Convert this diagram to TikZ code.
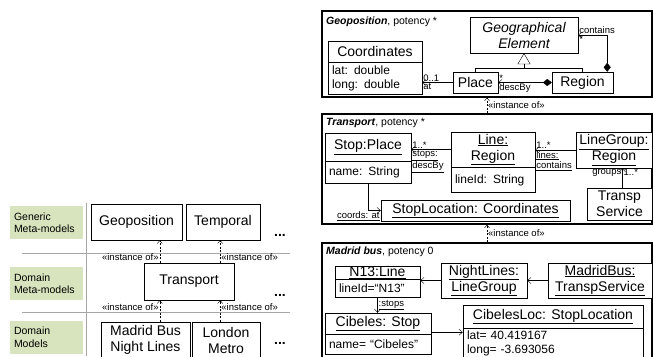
\documentclass[tikz,border=0pt]{standalone}
\usepackage{fontspec}
\setmainfont{Liberation Sans}
\usetikzlibrary{arrows.meta, positioning}
\definecolor{lvlgreen}{HTML}{D7E4BD}
\definecolor{sepgray}{HTML}{A6A6A6}
\tikzset{
  cls/.style={
    draw,
    fill=white,
    align=center,
    inner sep=1pt,
    font=\fontsize{14}{16}\selectfont
  },
  attr/.style={
    draw,
    fill=white,
    align=left,
    inner xsep=4pt,
    inner ysep=0pt,
    font=\fontsize{12}{14}\selectfont
  },
  level/.style={
    fill=lvlgreen,
    align=left,
    text width=65pt,
    inner xsep=4pt,
    minimum height=33pt,
    font=\fontsize{10.5}{12.5}\selectfont
  },
  frame/.style={draw, line width=1.2pt},
  frametitle/.style={anchor=west, inner sep=0pt, font=\fontsize{10.5}{12}\selectfont},
  lbl/.style={inner sep=1pt, font=\fontsize{9.5}{10.5}\selectfont},
  dots/.style={font=\fontsize{14}{16}\bfseries},
  sepline/.style={draw=sepgray, line width=0.8pt},
  inst/.style={-{Straight Barb[length=3pt, width=5pt]}, dash pattern=on 2pt off 1.5pt},
  assoc/.style={-{Straight Barb[length=3.5pt, width=6pt]}},
  comp/.style={{Diamond[length=9pt, width=7pt]}-{Straight Barb[length=3.5pt, width=6pt]}},
  gener/.style={-{Triangle[open, length=11pt, width=13pt]}}
}

\begin{document}
\begin{tikzpicture}[x=1pt, y=-1pt]
  \useasboundingbox[fill=white] (0,0) rectangle (653,356);

  % levels on the left
  \node[level] (lgen) at (46.5,222.5) {Generic\\\mbox{Meta-models}};
  \node[level] (ldmm) at (46.5,283.5) {Domain\\\mbox{Meta-models}};
  \node[level] (ldm) at (46.5,337) {Domain\\Models};
  \draw[sepline] (86,203) -- (86,356);
  \draw[sepline] (22,253) -- (290,253);
  \draw[sepline] (22,312) -- (290,312);

  \node[cls, minimum width=91pt, minimum height=36pt] (geo) at (136.5,222) {Geoposition};
  \node[cls, minimum width=74pt, minimum height=36pt] (temporal) at (223,222) {Temporal};
  \node[cls, minimum width=90pt, minimum height=37pt] (transport) at (189,281.5) {Transport};
  \node[cls, minimum width=89pt, minimum height=36pt] (madrid) at (145.5,340) {Madrid Bus\\Night Lines};
  \node[cls, minimum width=68pt, minimum height=36pt] (london) at (226,340) {London\\Metro};
  \node[dots] (dotsa) at (280,235) {...};
  \node[dots] (dotsb) at (280,295) {...};
  \node[dots] (dotsc) at (280,343) {...};

  \coordinate (ta) at ([xshift=16pt]transport.north west);
  \coordinate (tb) at ([xshift=-14pt]transport.north east);
  \coordinate (ba) at ([xshift=16pt]transport.south west);
  \coordinate (bb) at ([xshift=-14pt]transport.south east);
  \draw[inst] (ta) -- (ta |- geo.south) node[lbl, left, pos=0.26] {«instance of»};
  \draw[inst] (tb) -- (tb |- temporal.south) node[lbl, right, pos=0.26] {«instance of»};
  \draw[inst] (ba |- madrid.north) -- (ba) node[lbl, left, pos=0.68] {«instance of»};
  \draw[inst] (bb |- london.north) -- (bb) node[lbl, right, pos=0.68] {«instance of»};

  % Geoposition
  \node[frame, minimum width=330pt, minimum height=86pt] (geoframe) at (487,54) {};
  \node[frametitle] (geotitle) at (326,22) {\textbf{\textit{Geoposition}}, potency *};
  \node[cls, minimum width=108pt, minimum height=36pt, font=\fontsize{14}{16}\itshape] (ge) at (524,35) {Geographical\\Element};
  \node[cls, minimum width=94pt, minimum height=21pt] (coordhead) at (375,51.5) {Coordinates};
  \node[attr, text width=86pt, minimum height=32pt, below=0pt of coordhead] (coordbody) {lat: double\\long: double};
  \node[cls, minimum width=45pt, minimum height=21pt] (place) at (475.5,82.5) {Place};
  \node[cls, minimum width=61pt, minimum height=21pt] (region) at (582.5,82.5) {Region};

  \coordinate (gen) at ([yshift=-15pt]ge.south);
  \draw[gener] (gen) -- (ge.south);
  \draw (place.north) |- (gen) -| (region.north);
  \draw[comp] ([xshift=-6pt]region.north east) |- (ge.east);
  \node[lbl, anchor=south west] at (ge.east) {contains};
  \node[lbl, anchor=north west] at (ge.east) {*};
  \draw[comp] (region.west) -- (place.east);
  \node[lbl, anchor=south west] at (place.east) {*};
  \node[lbl, anchor=north west] at (place.east) {descBy};
  \coordinate (atend) at (place.west -| coordhead.east);
  \draw[assoc] (place.west) -- (atend);
  \node[lbl, anchor=south west] at (atend) {0..1};
  \node[lbl, anchor=north west] at (atend) {at};

  % Transport
  \node[frame, minimum width=330pt, minimum height=110pt] (trframe) at (487,169) {};
  \draw[inst] (trframe.north) -- (geoframe.south) node[lbl, right, midway] {«instance of»};
  \node[frametitle] (trtitle) at (326,123) {\textbf{\textit{Transport}}, potency *};
  \node[cls, minimum width=86pt, minimum height=28pt] (stophead) at (368,147) {\underline{Stop:Place}};
  \node[attr, text width=78pt, minimum height=22pt, below=0pt of stophead] (stopbody) {name: String};
  \node[cls, minimum width=84pt, minimum height=35pt] (linehead) at (493,149.5) {\underline{Line:}\\\underline{Region}};
  \node[attr, text width=76pt, minimum height=25pt, below=0pt of linehead] (linebody) {lineId: String};
  \node[cls, minimum width=76pt, minimum height=36pt] (lgroup) at (614,150) {\underline{LineGroup:}\\\underline{Region}};
  \node[cls, minimum width=65pt, minimum height=32pt] (tservice) at (619.5,204) {Transp\\Service};
  \node[cls, minimum width=189pt, minimum height=21pt] (stoploc) at (475.5,210.5) {\underline{StopLocation: Coordinates}};

  \coordinate (stopsend) at (linehead.west -| stophead.east);
  \draw[assoc] (linehead.west) -- (stopsend);
  \node[lbl, anchor=south west] at (stopsend) {1..*};
  \node[lbl, anchor=north west, align=left] at (stopsend) {\underline{stops:}\\\underline{descBy}};
  \coordinate (linesend) at (lgroup.west -| linehead.east);
  \draw[assoc] (lgroup.west) -- (linesend);
  \node[lbl, anchor=south west] at (linesend) {1..*};
  \node[lbl, anchor=north west, align=left] at (linesend) {\underline{lines:}\\\underline{contains}};
  \coordinate (grpstart) at ([xshift=3pt]tservice.north);
  \coordinate (grpend) at (grpstart |- lgroup.south);
  \draw[assoc] (grpstart) -- (grpend);
  \node[lbl, anchor=north east] at (grpend) {groups};
  \node[lbl, anchor=north west] at (grpend) {1..*};
  \draw[assoc] (stopbody.south) |- (stoploc.west);
  \node[lbl, anchor=north east] at (stoploc.west) {\underline{coords: at}};

  % Madrid bus
  \node[frame, minimum width=330pt, minimum height=115pt] (mbframe) at (487,300.5) {};
  \draw[inst] (mbframe.north) -- (trframe.south) node[lbl, right, midway] {«instance of»};
  \node[frametitle] (mbtitle) at (326,252) {\textbf{\textit{Madrid bus}}, potency 0};
  \node[cls, minimum width=85pt, minimum height=12.5pt, inner sep=0pt] (n13head) at (377.5,272.5) {\underline{N13:Line}};
  \node[attr, text width=77pt, minimum height=18pt, below=0pt of n13head] (n13body) {lineId=“N13”};
  \node[cls, minimum width=86pt, minimum height=35pt] (nightl) at (484,280.5) {\underline{NightLines:}\\\underline{LineGroup}};
  \node[cls, minimum width=104pt, minimum height=35pt] (mbus) at (600,280.5) {\underline{MadridBus:}\\\underline{TranspService}};
  \node[cls, minimum width=106pt, minimum height=21pt] (cibhead) at (378,323.5) {\underline{Cibeles: Stop}};
  \node[attr, text width=98pt, minimum height=20pt, below=0pt of cibhead] (cibbody) {name= “Cibeles”};
  \node[cls, minimum width=180pt, minimum height=23pt] (clhead) at (553,316.5) {\underline{CibelesLoc: StopLocation}};
  \node[attr, text width=172pt, minimum height=30pt, below=0pt of clhead] (clbody) {lat= 40.419167\\long= -3.693056};

  \draw[assoc] (nightl.west) -- (nightl.west -| n13body.east);
  \draw[assoc] (mbus.west) -- (nightl.east);
  \draw[assoc] (n13body.south) -- (n13body.south |- cibhead.north) node[lbl, right, midway] {\underline{:stops}};
  \coordinate (cibout) at ([yshift=2pt]cibbody.north east);
  \draw[assoc] (cibout) -- (cibout -| clbody.west);
\end{tikzpicture}
\end{document}
